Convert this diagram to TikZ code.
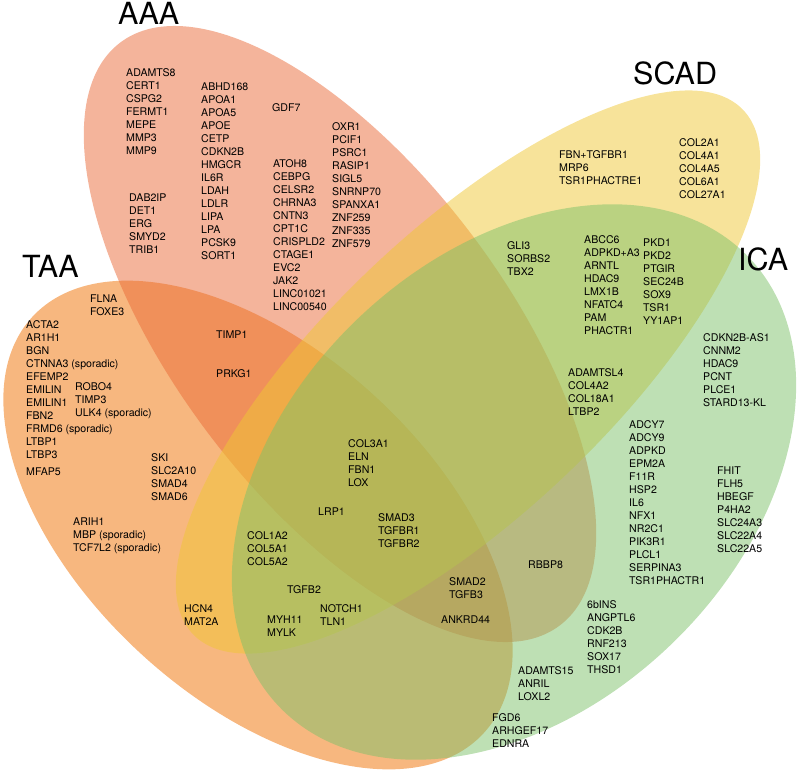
\documentclass[tikz,border=0pt]{standalone}
\usepackage{fontspec}
\setmainfont{TeX Gyre Heros}
\definecolor{taacol}{RGB}{239,111,0}
\definecolor{aaacol}{RGB}{233,105,55}
\definecolor{scadcol}{RGB}{239,199,53}
\definecolor{icacol}{RGB}{125,193,105}

\begin{document}
\begin{tikzpicture}[x=1pt,y=-1pt,
  every node/.style={anchor=north west,align=left,inner sep=0pt,font=\fontsize{10.6}{13}\selectfont},
  setname/.style={font=\fontsize{30.5}{32}\selectfont},
  venn/.style={fill opacity=0.5}]
\useasboundingbox (0,0) rectangle (800,772);
% the four sets
\fill[venn,taacol,rotate around={-42.7:(258,525)}] (258,525) ellipse [x radius=307,y radius=174];
\fill[venn,aaacol,rotate around={-53:(340,334)}] (340,334) ellipse [x radius=365,y radius=165];
\fill[venn,scadcol,rotate around={43.6:(468,372)}] (468,372) ellipse [x radius=380,y radius=142];
\fill[venn,icacol,rotate around={43.7:(514,482)}] (514,482) ellipse [x radius=325,y radius=226];

\node[setname] (AAA) at (118,2) {AAA};
\node[setname] (TAA) at (22,255) {TAA};
\node[setname] (SCAD) at (633,62) {SCAD};
\node[setname] (ICA) at (738,248) {ICA};

% AAA
\node (aaa1) at (126,68) {ADAMTS8\\CERT1\\CSPG2\\FERMT1\\MEPE\\MMP3\\MMP9};
\node (aaa2) at (201,83) {ABHD168\\APOA1\\APOA5\\APOE\\CETP\\CDKN2B\\HMGCR\\IL6R\\LDAH\\LDLR\\LIPA\\LPA\\PCSK9\\SORT1};
\node (aaa3) at (272,103) {GDF7};
\node (aaa4) at (332,122) {OXR1\\PCIF1\\PSRC1\\RASIP1\\SIGL5\\SNRNP70\\SPANXA1\\ZNF259\\ZNF335\\ZNF579};
\node (aaa5) at (273,159) {ATOH8\\CEBPG\\CELSR2\\CHRNA3\\CNTN3\\CPT1C\\CRISPLD2\\CTAGE1\\EVC2\\JAK2\\LINC01021\\LINC00540};
\node (aaa6) at (129,194) {DAB2IP\\DET1\\ERG\\SMYD2\\TRIB1};

% TAA
\node (taa1) at (90,295) {FLNA\\FOXE3};
\node (taa2) at (26,320) {ACTA2\\AR1H1\\BGN\\CTNNA3 (sporadic)\\EFEMP2\\EMILIN\\EMILIN1\\FBN2\\FRMD6 (sporadic)\\LTBP1\\LTBP3};
\node (taa3) at (26,468) {MFAP5};
\node (taa4) at (75,382) {ROBO4\\TIMP3\\ULK4 (sporadic)};
\node (taa5) at (151,453) {SKI\\SLC2A10\\SMAD4\\SMAD6};
\node (taa6) at (73,518) {ARIH1\\MBP (sporadic)\\TCF7L2 (sporadic)};
\node (at1) at (216,331) {TIMP1};
\node (at2) at (216,369) {PRKG1};
\node (ts1) at (184,604) {HCN4\\MAT2A};

% middle
\node (mid1) at (348,439) {COL3A1\\ELN\\FBN1\\LOX};
\node (mid2) at (318,508) {LRP1};
\node (mid3) at (378,513) {SMAD3\\TGFBR1\\TGFBR2};
\node (mid4) at (247,531) {COL1A2\\COL5A1\\COL5A2};
\node (mid5) at (287,585) {TGFB2};
\node (mid6) at (320,604) {NOTCH1\\TLN1};
\node (mid7) at (267,616) {MYH11\\MYLK};
\node (mid8) at (449,577) {SMAD2\\TGFB3};
\node (mid9) at (441,616) {ANKRD44};
\node (ai1) at (528,561) {RBBP8};

% SCAD
\node (scad1) at (559,150) {FBN+TGFBR1\\MRP6\\TSR1PHACTRE1};
\node (scad2) at (679,138) {COL2A1\\COL4A1\\COL4A5\\COL6A1\\COL27A1};
\node (si1) at (507,241) {GLI3\\SORBS2\\TBX2};
\node (si2) at (584,235) {ABCC6\\ADPKD+A3\\ARNTL\\HDAC9\\LMX1B\\NFATC4\\PAM\\PHACTR1};
\node (si3) at (643,239) {PKD1\\PKD2\\PTGIR\\SEC24B\\SOX9\\TSR1\\YY1AP1};
\node (si4) at (568,368) {ADAMTSL4\\COL4A2\\COL18A1\\LTBP2};

% ICA
\node (ica1) at (703,333) {CDKN2B-AS1\\CNNM2\\HDAC9\\PCNT\\PLCE1\\STARD13-KL};
\node (ica2) at (629,420) {ADCY7\\ADCY9\\ADPKD\\EPM2A\\F11R\\HSP2\\IL6\\NFX1\\NR2C1\\PIK3R1\\PLCL1\\SERPINA3\\TSR1PHACTR1};
\node (ica3) at (717,467) {FHIT\\FLH5\\HBEGF\\P4HA2\\SLC24A3\\SLC22A4\\SLC22A5};
\node (ica4) at (587,600) {6bINS\\ANGPTL6\\CDK2B\\RNF213\\SOX17\\THSD1};
\node (ica5) at (518,666) {ADAMTS15\\ANRIL\\LOXL2};
\node (ica6) at (492,713) {FGD6\\ARHGEF17\\EDNRA};
\end{tikzpicture}
\end{document}
